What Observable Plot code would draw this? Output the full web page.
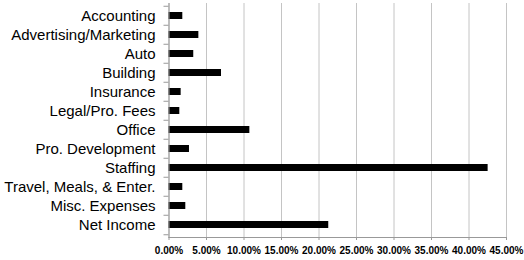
<!DOCTYPE html>
<html><head><meta charset="utf-8">
<script src="https://cdn.jsdelivr.net/npm/d3@7"></script>
<script src="https://cdn.jsdelivr.net/npm/@observablehq/plot@0.6"></script>
<style>body{margin:0;background:#fff}</style>
</head><body><div id="chart"></div>
<script>
const categories = ["Accounting","Advertising/Marketing","Auto","Building","Insurance","Legal/Pro. Fees","Office","Pro. Development","Staffing","Travel, Meals, & Enter.","Misc. Expenses","Net Income"];
const shares = [0.0184,0.0398,0.033,0.070,0.0162,0.0144,0.1078,0.0273,0.4255,0.0184,0.0224,0.213];
const xTicks = [0,0.05,0.10,0.15,0.20,0.25,0.30,0.35,0.40,0.45];

const data = categories.map((c, i) => ({category: c, share: shares[i]}));
const fmt = d3.format(".2%");

const chart = Plot.plot({
  width: 524, height: 260,
  marginLeft: 168.5, marginRight: 18, marginTop: 3, marginBottom: 23,
  style: {fontFamily: "Liberation Sans, Arial, sans-serif", background: "#fff", color: "#000"},
  x: {domain: [0, 0.45]},
  y: {domain: categories, paddingInner: 0.62, paddingOuter: 0.31},
  marks: [
    Plot.gridX(xTicks, {stroke: "#c4c4c4", strokeOpacity: 1}),
    Plot.barX(data, {y: "category", x: "share", fill: "#000"}),
    Plot.axisX(xTicks, {tickSize: 3, tickPadding: 6, tickFormat: fmt, fontSize: 10, fontWeight: "bold", stroke: "#999", label: null}),
    Plot.axisY({tickSize: 0, tickPadding: 13.5, fontSize: 15, label: null}),
    Plot.axisY({tickSize: 5, text: null, dy: -9.75, stroke: "#999", label: null}),
    Plot.axisY([categories[categories.length - 1]], {tickSize: 5, text: null, dy: 9.75, stroke: "#999", label: null}),
    Plot.frame({anchor: "left", stroke: "#999"}),
    Plot.frame({anchor: "bottom", stroke: "#999"})
  ]
});
document.getElementById("chart").append(chart);
</script>
</body></html>
